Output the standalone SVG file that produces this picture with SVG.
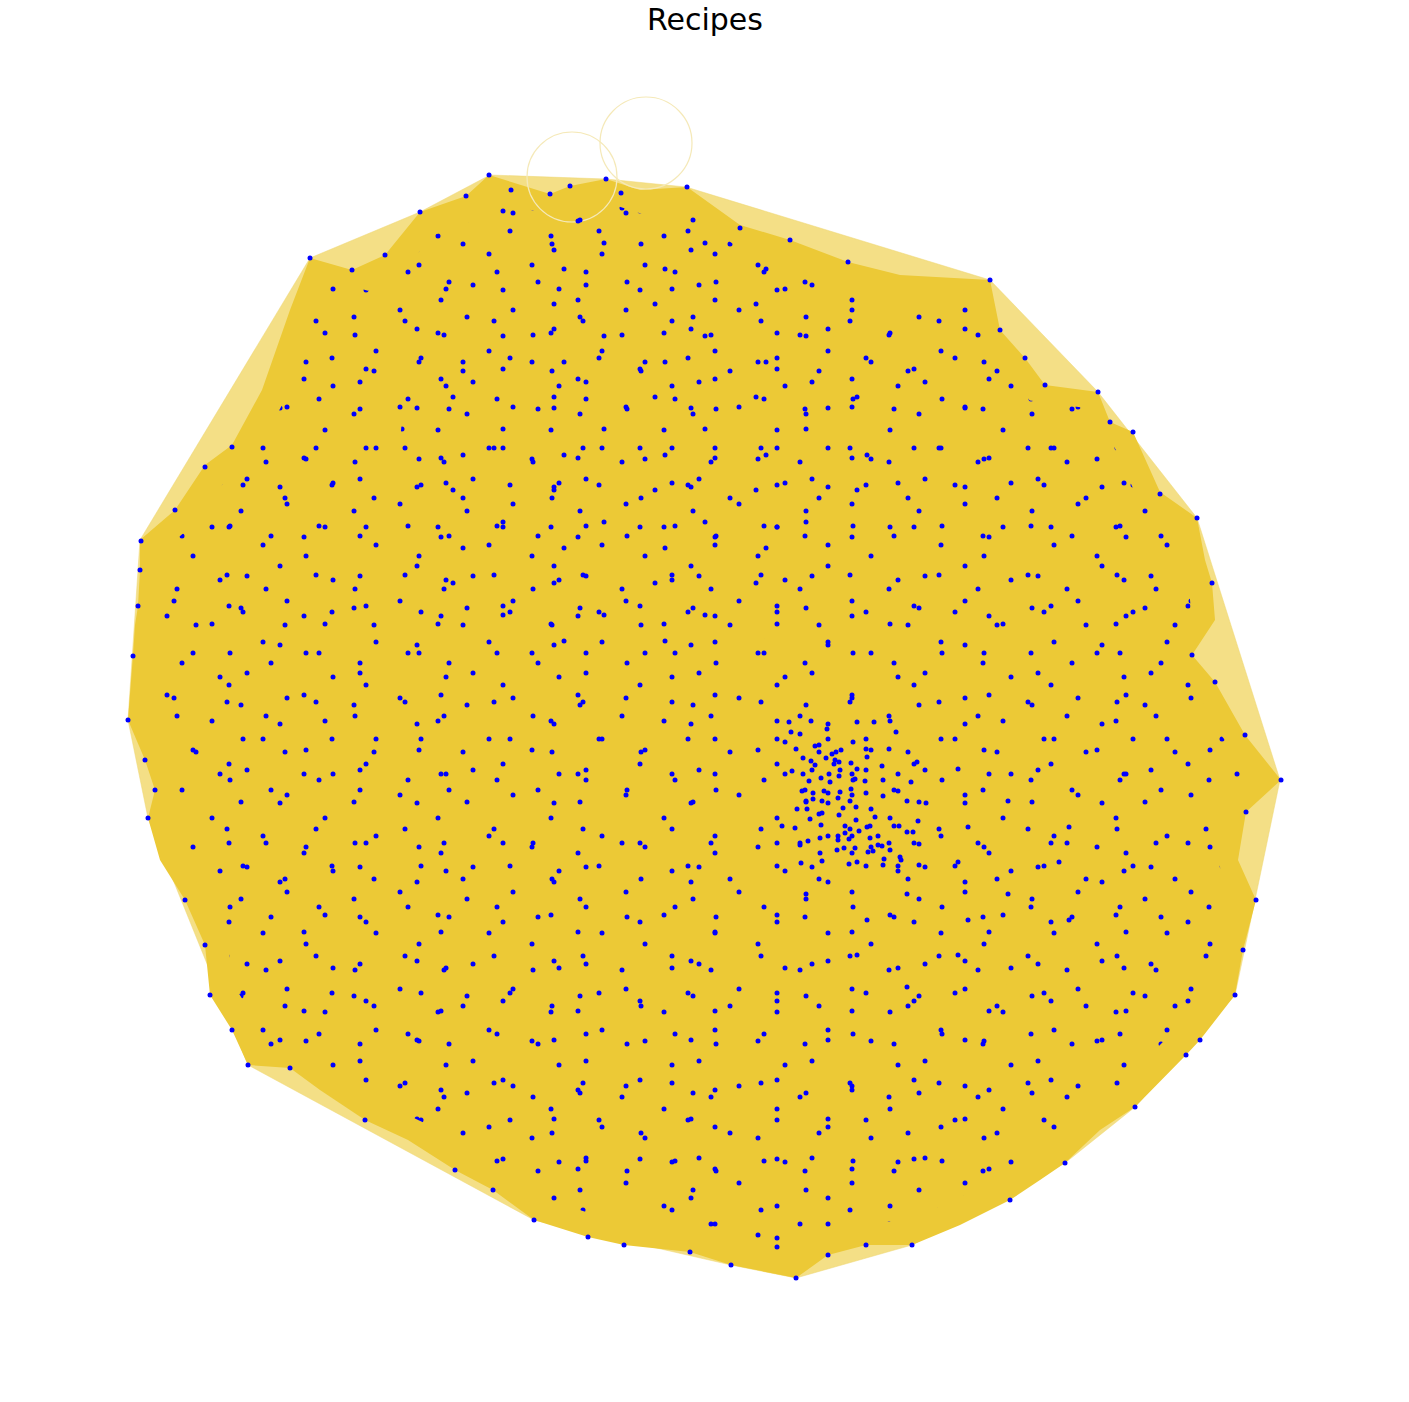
<svg xmlns="http://www.w3.org/2000/svg" width="1409" height="1402" viewBox="0 0 1409 1402">
<style>
.dot{fill:#0000ff}
.loop{fill:none;stroke:#f5e9b8;stroke-width:1.2}
.title{font-family:"DejaVu Sans","Liberation Sans",sans-serif;font-size:30px;fill:#000}
.hull{fill:#ecc936}
.fringe{fill:#ecc936;fill-opacity:0.6;stroke:#f0d874;stroke-width:1;stroke-opacity:0.5}
</style>
<defs>
<pattern id="pA" patternUnits="userSpaceOnUse" x="3" y="11" width="113" height="97">
<circle class="dot" cx="12" cy="15" r="2.5"/><circle class="dot" cx="58" cy="8" r="2.5"/><circle class="dot" cx="96" cy="31" r="2.5"/><circle class="dot" cx="34" cy="49" r="2.5"/><circle class="dot" cx="77" cy="60" r="2.5"/><circle class="dot" cx="18" cy="80" r="2.5"/><circle class="dot" cx="104" cy="84" r="2.5"/>
</pattern>
<pattern id="pB" patternUnits="userSpaceOnUse" x="41" y="57" width="89" height="127">
<circle class="dot" cx="8" cy="10" r="2.5"/><circle class="dot" cx="47" cy="24" r="2.5"/><circle class="dot" cx="24" cy="47" r="2.5"/><circle class="dot" cx="66" cy="60" r="2.5"/><circle class="dot" cx="11" cy="88" r="2.5"/><circle class="dot" cx="52" cy="98" r="2.5"/>
</pattern>
<pattern id="pC" patternUnits="userSpaceOnUse" x="77" y="23" width="137" height="79">
<circle class="dot" cx="15" cy="30" r="2.5"/><circle class="dot" cx="90" cy="40" r="2.5"/><circle class="dot" cx="66" cy="69" r="2.5"/>
</pattern>
<pattern id="pD" patternUnits="userSpaceOnUse" x="19" y="5" width="101" height="93">
<circle class="dot" cx="30" cy="20" r="2.5"/><circle class="dot" cx="80" cy="52" r="2.5"/><circle class="dot" cx="40" cy="78" r="2.5"/>
</pattern>
<clipPath id="inner">
<polygon transform="translate(705 730) scale(0.955) translate(-705 -730)" points="489,175 550,194 570,186 606,179 640,190 687,187 740,225 790,240 848,262 900,275 990,280 1000,330 1025,358 1045,385 1098,392 1110,422 1133,432 1160,492 1197,518 1205,560 1212,583 1215,620 1192,655 1215,682 1245,735 1281,780 1246,812 1238,860 1256,900 1243,950 1235,995 1200,1040 1186,1055 1135,1107 1100,1130 1065,1163 1040,1180 1010,1200 960,1225 912,1245 866,1245 828,1255 796,1278 731,1265 690,1252 624,1245 588,1237 534,1220 493,1190 455,1170 408,1140 365,1120 320,1090 290,1068 248,1065 232,1030 210,995 205,945 185,900 160,860 148,818 155,790 145,760 128,720 133,655 135,625 138,606 140,570 140,540 175,510 205,465 232,445 262,390 290,310 310,258 352,270 385,255 420,212 466,196"/>
</clipPath>
<clipPath id="dense"><ellipse cx="640" cy="450" rx="240" ry="220"/><ellipse cx="930" cy="870" rx="160" ry="130"/></clipPath>
</defs>
<rect width="1409" height="1402" fill="#ffffff"/>
<text class="title" x="705" y="30" text-anchor="middle">Recipes</text>
<g id="connectors">
<polygon class="fringe" points="490,175 606,179 686,187 990,280 1098,392 1197,518 1280,780 1255,900 1235,995 1135,1107 1065,1163 912,1245 796,1278 731,1265 534,1220 248,1065 148,818 128,720 140,540 310,258 420,212"/>
<polygon class="hull" points="489,175 550,194 570,186 606,179 640,190 687,187 740,225 790,240 848,262 900,275 990,280 1000,330 1025,358 1045,385 1098,392 1110,422 1133,432 1160,492 1197,518 1205,560 1212,583 1215,620 1192,655 1215,682 1245,735 1281,780 1246,812 1238,860 1256,900 1243,950 1235,995 1200,1040 1186,1055 1135,1107 1100,1130 1065,1163 1040,1180 1010,1200 960,1225 912,1245 866,1245 828,1255 796,1278 731,1265 690,1252 624,1245 588,1237 534,1220 493,1190 455,1170 408,1140 365,1120 320,1090 290,1068 248,1065 232,1030 210,995 205,945 185,900 160,860 148,818 155,790 145,760 128,720 133,655 135,625 138,606 140,570 140,540 175,510 205,465 232,445 262,390 290,310 310,258 352,270 385,255 420,212 466,196"/>
<circle class="loop" cx="572" cy="177" r="45"/>
<circle class="loop" cx="646" cy="143" r="46"/>
</g>
<g id="nodes">
<g id="interior" clip-path="url(#inner)">
<rect width="1409" height="1402" fill="url(#pA)"/>
<rect width="1409" height="1402" fill="url(#pB)"/>
<rect width="1409" height="1402" fill="url(#pC)"/>
<g clip-path="url(#dense)"><rect width="1409" height="1402" fill="url(#pD)"/></g>
</g>
<g id="cluster">
<circle class="dot" cx="789" cy="722" r="2.5"/><circle class="dot" cx="811" cy="721" r="2.5"/><circle class="dot" cx="857" cy="722" r="2.5"/><circle class="dot" cx="874" cy="722" r="2.5"/><circle class="dot" cx="791" cy="732" r="2.5"/><circle class="dot" cx="800" cy="734" r="2.5"/><circle class="dot" cx="827" cy="729" r="2.5"/><circle class="dot" cx="896" cy="732" r="2.5"/><circle class="dot" cx="785" cy="742" r="2.5"/><circle class="dot" cx="815" cy="746" r="2.5"/><circle class="dot" cx="819" cy="745" r="2.5"/><circle class="dot" cx="853" cy="742" r="2.5"/><circle class="dot" cx="796" cy="749" r="2.5"/><circle class="dot" cx="832" cy="754" r="2.5"/><circle class="dot" cx="836" cy="752" r="2.5"/><circle class="dot" cx="841" cy="750" r="2.5"/><circle class="dot" cx="866" cy="749" r="2.5"/><circle class="dot" cx="889" cy="749" r="2.5"/><circle class="dot" cx="803" cy="758" r="2.5"/><circle class="dot" cx="826" cy="758" r="2.5"/><circle class="dot" cx="835" cy="760" r="2.5"/><circle class="dot" cx="834" cy="764" r="2.5"/><circle class="dot" cx="839" cy="762" r="2.5"/><circle class="dot" cx="867" cy="757" r="2.5"/><circle class="dot" cx="811" cy="761" r="2.5"/><circle class="dot" cx="815" cy="765" r="2.5"/><circle class="dot" cx="851" cy="763" r="2.5"/><circle class="dot" cx="917" cy="762" r="2.5"/><circle class="dot" cx="882" cy="766" r="2.5"/><circle class="dot" cx="792" cy="771" r="2.5"/><circle class="dot" cx="840" cy="770" r="2.5"/><circle class="dot" cx="866" cy="770" r="2.5"/><circle class="dot" cx="803" cy="774" r="2.5"/><circle class="dot" cx="829" cy="774" r="2.5"/><circle class="dot" cx="839" cy="776" r="2.5"/><circle class="dot" cx="821" cy="778" r="2.5"/><circle class="dot" cx="855" cy="779" r="2.5"/><circle class="dot" cx="809" cy="781" r="2.5"/><circle class="dot" cx="865" cy="781" r="2.5"/><circle class="dot" cx="883" cy="780" r="2.5"/><circle class="dot" cx="911" cy="782" r="2.5"/><circle class="dot" cx="830" cy="782" r="2.5"/><circle class="dot" cx="802" cy="791" r="2.5"/><circle class="dot" cx="813" cy="793" r="2.5"/><circle class="dot" cx="824" cy="791" r="2.5"/><circle class="dot" cx="828" cy="793" r="2.5"/><circle class="dot" cx="840" cy="792" r="2.5"/><circle class="dot" cx="851" cy="789" r="2.5"/><circle class="dot" cx="866" cy="793" r="2.5"/><circle class="dot" cx="883" cy="796" r="2.5"/><circle class="dot" cx="898" cy="791" r="2.5"/><circle class="dot" cx="813" cy="799" r="2.5"/><circle class="dot" cx="822" cy="801" r="2.5"/><circle class="dot" cx="838" cy="798" r="2.5"/><circle class="dot" cx="850" cy="801" r="2.5"/><circle class="dot" cx="926" cy="803" r="2.5"/><circle class="dot" cx="797" cy="809" r="2.5"/><circle class="dot" cx="807" cy="809" r="2.5"/><circle class="dot" cx="843" cy="808" r="2.5"/><circle class="dot" cx="856" cy="807" r="2.5"/><circle class="dot" cx="871" cy="809" r="2.5"/><circle class="dot" cx="819" cy="814" r="2.5"/><circle class="dot" cx="822" cy="813" r="2.5"/><circle class="dot" cx="839" cy="815" r="2.5"/><circle class="dot" cx="875" cy="817" r="2.5"/><circle class="dot" cx="810" cy="819" r="2.5"/><circle class="dot" cx="856" cy="820" r="2.5"/><circle class="dot" cx="918" cy="821" r="2.5"/><circle class="dot" cx="782" cy="826" r="2.5"/><circle class="dot" cx="795" cy="828" r="2.5"/><circle class="dot" cx="821" cy="825" r="2.5"/><circle class="dot" cx="845" cy="826" r="2.5"/><circle class="dot" cx="870" cy="826" r="2.5"/><circle class="dot" cx="894" cy="826" r="2.5"/><circle class="dot" cx="899" cy="826" r="2.5"/><circle class="dot" cx="859" cy="831" r="2.5"/><circle class="dot" cx="907" cy="832" r="2.5"/><circle class="dot" cx="913" cy="832" r="2.5"/><circle class="dot" cx="838" cy="836" r="2.5"/><circle class="dot" cx="852" cy="836" r="2.5"/><circle class="dot" cx="878" cy="836" r="2.5"/><circle class="dot" cx="820" cy="838" r="2.5"/><circle class="dot" cx="845" cy="833" r="2.5"/><circle class="dot" cx="838" cy="840" r="2.5"/><circle class="dot" cx="849" cy="839" r="2.5"/><circle class="dot" cx="870" cy="838" r="2.5"/><circle class="dot" cx="808" cy="841" r="2.5"/><circle class="dot" cx="800" cy="845" r="2.5"/><circle class="dot" cx="878" cy="845" r="2.5"/><circle class="dot" cx="882" cy="846" r="2.5"/><circle class="dot" cx="919" cy="844" r="2.5"/><circle class="dot" cx="844" cy="848" r="2.5"/><circle class="dot" cx="855" cy="848" r="2.5"/><circle class="dot" cx="837" cy="850" r="2.5"/><circle class="dot" cx="890" cy="850" r="2.5"/><circle class="dot" cx="868" cy="852" r="2.5"/><circle class="dot" cx="873" cy="851" r="2.5"/><circle class="dot" cx="820" cy="853" r="2.5"/><circle class="dot" cx="900" cy="857" r="2.5"/><circle class="dot" cx="901" cy="860" r="2.5"/><circle class="dot" cx="884" cy="859" r="2.5"/><circle class="dot" cx="801" cy="863" r="2.5"/><circle class="dot" cx="822" cy="861" r="2.5"/><circle class="dot" cx="849" cy="864" r="2.5"/><circle class="dot" cx="883" cy="865" r="2.5"/><circle class="dot" cx="898" cy="866" r="2.5"/><circle class="dot" cx="919" cy="865" r="2.5"/>
</g>
<g id="perimeter">
<circle class="dot" cx="489" cy="175" r="2.5"/><circle class="dot" cx="550" cy="194" r="2.5"/><circle class="dot" cx="570" cy="186" r="2.5"/><circle class="dot" cx="606" cy="179" r="2.5"/><circle class="dot" cx="687" cy="187" r="2.5"/><circle class="dot" cx="740" cy="228" r="2.5"/><circle class="dot" cx="790" cy="240" r="2.5"/><circle class="dot" cx="848" cy="262" r="2.5"/><circle class="dot" cx="990" cy="280" r="2.5"/><circle class="dot" cx="1000" cy="330" r="2.5"/><circle class="dot" cx="1025" cy="358" r="2.5"/><circle class="dot" cx="1045" cy="385" r="2.5"/><circle class="dot" cx="1098" cy="392" r="2.5"/><circle class="dot" cx="1110" cy="422" r="2.5"/><circle class="dot" cx="1133" cy="432" r="2.5"/><circle class="dot" cx="1160" cy="494" r="2.5"/><circle class="dot" cx="1197" cy="518" r="2.5"/><circle class="dot" cx="1212" cy="583" r="2.5"/><circle class="dot" cx="1192" cy="655" r="2.5"/><circle class="dot" cx="1215" cy="682" r="2.5"/><circle class="dot" cx="1245" cy="735" r="2.5"/><circle class="dot" cx="1281" cy="780" r="2.5"/><circle class="dot" cx="1246" cy="812" r="2.5"/><circle class="dot" cx="1256" cy="900" r="2.5"/><circle class="dot" cx="1243" cy="950" r="2.5"/><circle class="dot" cx="1235" cy="995" r="2.5"/><circle class="dot" cx="1200" cy="1040" r="2.5"/><circle class="dot" cx="1186" cy="1055" r="2.5"/><circle class="dot" cx="1135" cy="1107" r="2.5"/><circle class="dot" cx="1065" cy="1163" r="2.5"/><circle class="dot" cx="1010" cy="1200" r="2.5"/><circle class="dot" cx="912" cy="1245" r="2.5"/><circle class="dot" cx="866" cy="1245" r="2.5"/><circle class="dot" cx="828" cy="1255" r="2.5"/><circle class="dot" cx="796" cy="1278" r="2.5"/><circle class="dot" cx="731" cy="1265" r="2.5"/><circle class="dot" cx="690" cy="1252" r="2.5"/><circle class="dot" cx="624" cy="1245" r="2.5"/><circle class="dot" cx="588" cy="1237" r="2.5"/><circle class="dot" cx="534" cy="1220" r="2.5"/><circle class="dot" cx="493" cy="1190" r="2.5"/><circle class="dot" cx="455" cy="1170" r="2.5"/><circle class="dot" cx="365" cy="1120" r="2.5"/><circle class="dot" cx="290" cy="1068" r="2.5"/><circle class="dot" cx="248" cy="1065" r="2.5"/><circle class="dot" cx="232" cy="1030" r="2.5"/><circle class="dot" cx="210" cy="995" r="2.5"/><circle class="dot" cx="205" cy="945" r="2.5"/><circle class="dot" cx="185" cy="900" r="2.5"/><circle class="dot" cx="148" cy="818" r="2.5"/><circle class="dot" cx="155" cy="790" r="2.5"/><circle class="dot" cx="145" cy="760" r="2.5"/><circle class="dot" cx="128" cy="720" r="2.5"/><circle class="dot" cx="133" cy="656" r="2.5"/><circle class="dot" cx="138" cy="606" r="2.5"/><circle class="dot" cx="140" cy="570" r="2.5"/><circle class="dot" cx="141" cy="541" r="2.5"/><circle class="dot" cx="175" cy="510" r="2.5"/><circle class="dot" cx="205" cy="467" r="2.5"/><circle class="dot" cx="232" cy="447" r="2.5"/><circle class="dot" cx="310" cy="258" r="2.5"/><circle class="dot" cx="352" cy="270" r="2.5"/><circle class="dot" cx="385" cy="255" r="2.5"/><circle class="dot" cx="420" cy="212" r="2.5"/><circle class="dot" cx="466" cy="196" r="2.5"/><circle class="dot" cx="511" cy="190" r="2.5"/><circle class="dot" cx="621" cy="193" r="2.5"/>
</g>
</g>
</svg>
